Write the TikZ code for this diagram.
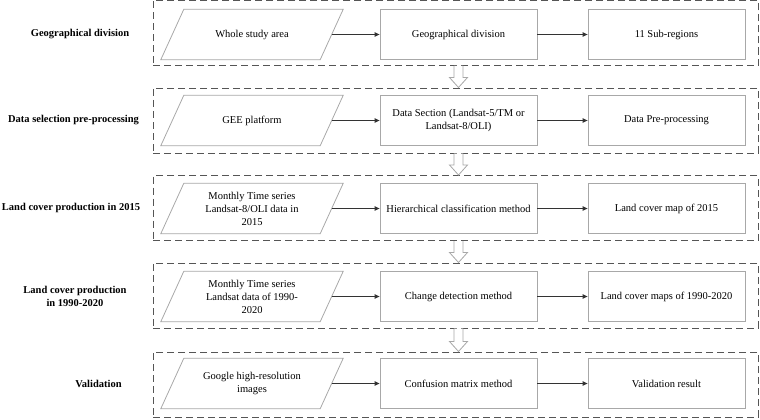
\documentclass[tikz,border=0pt]{standalone}
\usepackage{fontspec}
\setmainfont{Liberation Serif}
\usetikzlibrary{arrows.meta,calc}
\definecolor{boxgray}{HTML}{A8A8A8}
\definecolor{dashgray}{HTML}{555555}
\definecolor{arrgray}{HTML}{333333}
\tikzset{
  txt/.style={font=\fontsize{10.5}{13}\selectfont, align=center},
  rowlabel/.style={txt, font=\fontsize{10.5}{13}\selectfont\bfseries},
  procbox/.style={txt, draw=boxgray, line width=0.8pt, minimum width=157pt, minimum height=50pt, inner sep=1pt},
  databox/.style={txt, minimum width=159pt, minimum height=50pt, inner sep=1pt},
  rowframe/.style={draw=dashgray, dash pattern=on 7pt off 4pt, line width=1pt, minimum width=605pt, minimum height=65pt, inner sep=0pt},
  flow/.style={draw=arrgray, line width=1.1pt, -{Triangle[length=5pt,width=4.5pt]}},
  hollow/.style={draw=boxgray, line width=0.8pt, fill=white},
  para/.style={draw=boxgray, line width=0.8pt}
}
\newcommand{\paraframe}[1]{%
  \draw[para] ($(#1.north west)+(11.5,0)$) -- ($(#1.north east)+(11.5,0)$) -- ($(#1.south east)+(-11.5,0)$) -- ($(#1.south west)+(-11.5,0)$) -- cycle;}
\begin{document}
\begin{tikzpicture}[x=1pt,y=-1pt]
\useasboundingbox (0,0) rectangle (760,420);

% row frames
\node[rowframe] (f1) at (455.5,33) {};
\node[rowframe] (f2) at (455.5,120.5) {};
\node[rowframe] (f3) at (455.5,208) {};
\node[rowframe] (f4) at (455.5,295.5) {};
\node[rowframe] (f5) at (455.5,384.5) {};

% row labels
\node[rowlabel] (l1) at (80,34) {Geographical division};
\node[rowlabel] (l2) at (73.5,120.5) {Data selection pre-processing};
\node[rowlabel] (l3) at (71,208) {Land cover production in 2015};
\node[rowlabel] (l4) at (75,296) {Land cover production\\in 1990-2020};
\node[rowlabel] (l5) at (98.5,384) {Validation};

% row 1
\node[databox] (d1) at (252,34.5) {Whole study area};
\node[procbox] (p11) at (458.5,34.5) {Geographical division};
\node[procbox] (p12) at (666.5,34.5) {11 Sub-regions};
% row 2
\node[databox] (d2) at (252,120.5) {GEE platform};
\node[procbox] (p21) at (458.5,120.5) {Data Section (Landsat-5/TM or\\Landsat-8/OLI)};
\node[procbox] (p22) at (666.5,120.5) {Data Pre-processing};
% row 3
\node[databox] (d3) at (252,208.5) {Monthly Time series\\Landsat-8/OLI data in\\2015};
\node[procbox] (p31) at (458.5,208.5) {Hierarchical classification method};
\node[procbox] (p32) at (666.5,208.5) {Land cover map of 2015};
% row 4
\node[databox] (d4) at (252,296.5) {Monthly Time series\\Landsat data of 1990-\\2020};
\node[procbox] (p41) at (458.5,296.5) {Change detection method};
\node[procbox] (p42) at (666.5,296.5) {Land cover maps of 1990-2020};
% row 5
\node[databox] (d5) at (252,383.5) {Google high-resolution\\images};
\node[procbox] (p51) at (458.5,383.5) {Confusion matrix method};
\node[procbox] (p52) at (666.5,383.5) {Validation result};

\foreach \i in {1,...,5}{
  \paraframe{d\i}
  \draw[flow] (d\i.east) -- (p\i1.west);
  \draw[flow] (p\i1.east) -- (p\i2.west);
}

% hollow arrows between rows
\foreach \a/\b in {1/2,2/3,3/4,4/5}{
  \path (p11.center |- f\a.south) coordinate (s\a);
  \path (p11.center |- f\b.north) coordinate (t\a);
  \draw[hollow] ($(s\a)+(-4.5,0)$) -- ($(t\a)+(-4.5,-10)$) -- ($(t\a)+(-9,-10)$) -- (t\a)
     -- ($(t\a)+(9,-10)$) -- ($(t\a)+(4.5,-10)$) -- ($(s\a)+(4.5,0)$);
}
\end{tikzpicture}
\end{document}
